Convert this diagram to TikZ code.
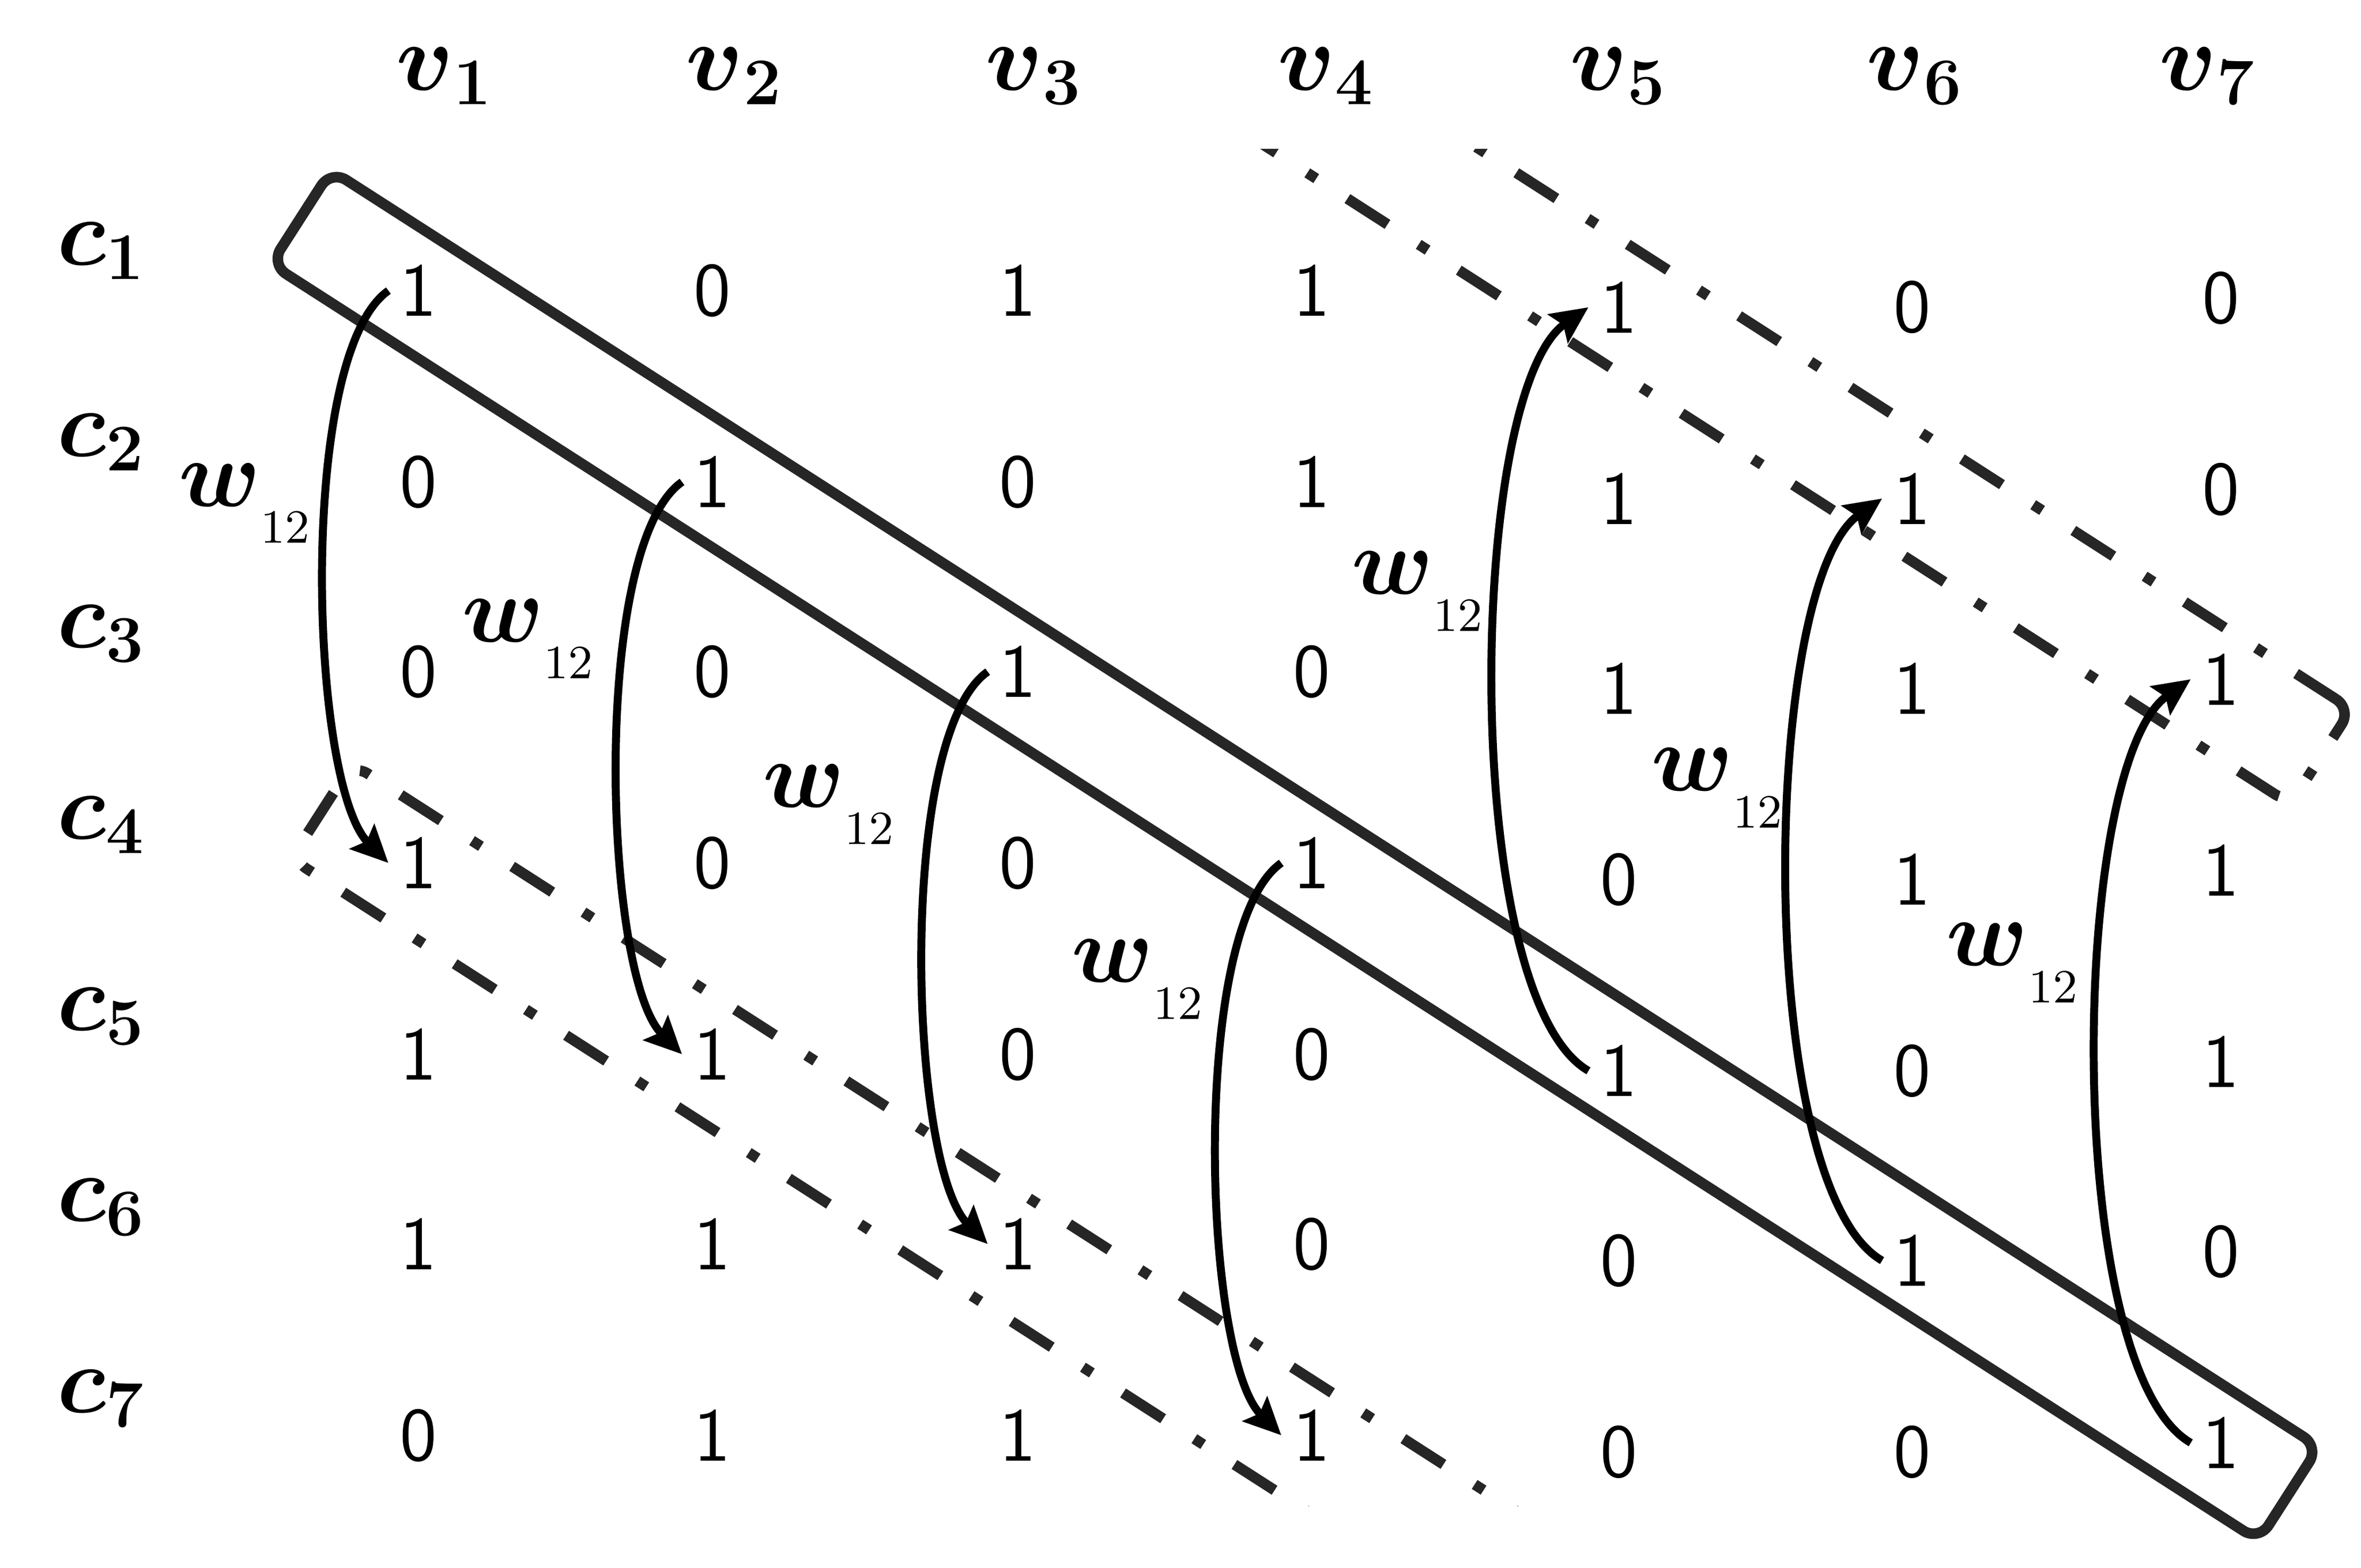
\RequirePackage{fix-cm}
\documentclass[tikz,border=0pt]{standalone}
\usepackage{amsmath}
\usepackage{xcolor}
\usepackage{tikz}
\usetikzlibrary{arrows.meta}
\definecolor{bandgray}{HTML}{262626}
\newcommand{\wsub}{$\boldsymbol{w}_{\lower4.3pt\hbox{$\scriptscriptstyle 12$}}$}

\begin{document}
\begin{tikzpicture}[x=0.01cm, y=0.01cm,
	bit/.style={inner sep=2pt, font=\fontsize{14.3}{16}\selectfont\sffamily},
	lab/.style={inner sep=0pt, font=\fontsize{18}{20}\selectfont},
	arr/.style={black, line width=1.5pt, -{Stealth[length=7pt,width=6.5pt,inset=1.2pt]}},
	godown/.style={arr, out=215, in=135, looseness=0.5},
	goup/.style={arr, out=150, in=215, looseness=0.5},
	band/.style={draw=bandgray, line width=2pt, rounded corners=0.12cm, rotate=-32.7},
	dashband/.style={band, dash pattern=on 9pt off 7pt on 2pt off 7pt}]
					\useasboundingbox (0,0) rectangle (1568,-1041.1);
					
					% column and row labels
					\node[lab, anchor=base] (v1) at (295.5,-60) {$\boldsymbol{v}_{\mathbf{1}}$};
					\node[lab, anchor=base] (v2) at (488,-60) {$\boldsymbol{v}_{\mathbf{2}}$};
					\node[lab, anchor=base] (v3) at (687,-60) {$\boldsymbol{v}_{\mathbf{3}}$};
					\node[lab, anchor=base] (v4) at (881,-60) {$\boldsymbol{v}_{\mathbf{4}}$};
					\node[lab, anchor=base] (v5) at (1075,-60) {$\boldsymbol{v}_{\mathbf{5}}$};
					\node[lab, anchor=base] (v6) at (1272,-60) {$\boldsymbol{v}_{\mathbf{6}}$};
					\node[lab, anchor=base] (v7) at (1466.5,-60) {$\boldsymbol{v}_{\mathbf{7}}$};
					
					\node[lab, anchor=base] (c1) at (67.5,-176) {$\boldsymbol{c}_{\mathbf{1}}$};
					\node[lab, anchor=base] (c2) at (67.5,-303) {$\boldsymbol{c}_{\mathbf{2}}$};
					\node[lab, anchor=base] (c3) at (67.5,-430) {$\boldsymbol{c}_{\mathbf{3}}$};
					\node[lab, anchor=base] (c4) at (67.5,-557) {$\boldsymbol{c}_{\mathbf{4}}$};
					\node[lab, anchor=base] (c5) at (67.5,-684) {$\boldsymbol{c}_{\mathbf{5}}$};
					\node[lab, anchor=base] (c6) at (67.5,-811) {$\boldsymbol{c}_{\mathbf{6}}$};
					\node[lab, anchor=base] (c7) at (67.5,-938) {$\boldsymbol{c}_{\mathbf{7}}$};
					
					% matrix entries
					\node[bit] (m11) at (278,-193) {1};
					\node[bit] (m12) at (473,-193) {0};
					\node[bit] (m13) at (676,-193) {1};
					\node[bit] (m14) at (871,-193) {1};
					\node[bit] (m15) at (1075,-204) {1};
					\node[bit] (m16) at (1270,-204) {0};
					\node[bit] (m17) at (1475,-198) {0};
					
					\node[bit] (m21) at (278,-320) {0};
					\node[bit] (m22) at (473,-320) {1};
					\node[bit] (m23) at (676,-320) {0};
					\node[bit] (m24) at (871,-320) {1};
					\node[bit] (m25) at (1075,-331) {1};
					\node[bit] (m26) at (1270,-331) {1};
					\node[bit] (m27) at (1475,-325) {0};
					
					\node[bit] (m31) at (278,-446) {0};
					\node[bit] (m32) at (473,-446) {0};
					\node[bit] (m33) at (676,-446) {1};
					\node[bit] (m34) at (871,-446) {0};
					\node[bit] (m35) at (1075,-457) {1};
					\node[bit] (m36) at (1270,-457) {1};
					\node[bit] (m37) at (1475,-451) {1};
					
					\node[bit] (m41) at (278,-573) {1};
					\node[bit] (m42) at (473,-573) {0};
					\node[bit] (m43) at (676,-573) {0};
					\node[bit] (m44) at (871,-573) {1};
					\node[bit] (m45) at (1075,-584) {0};
					\node[bit] (m46) at (1270,-584) {1};
					\node[bit] (m47) at (1475,-578) {1};
					
					\node[bit] (m51) at (278,-700) {1};
					\node[bit] (m52) at (473,-700) {1};
					\node[bit] (m53) at (676,-700) {0};
					\node[bit] (m54) at (871,-700) {0};
					\node[bit] (m55) at (1075,-711) {1};
					\node[bit] (m56) at (1270,-711) {0};
					\node[bit] (m57) at (1475,-705) {1};
					
					\node[bit] (m61) at (278,-826) {1};
					\node[bit] (m62) at (473,-826) {1};
					\node[bit] (m63) at (676,-826) {1};
					\node[bit] (m64) at (871,-826) {0};
					\node[bit] (m65) at (1075,-837) {0};
					\node[bit] (m66) at (1270,-837) {1};
					\node[bit] (m67) at (1475,-831) {0};
					
					\node[bit] (m71) at (278,-953) {0};
					\node[bit] (m72) at (473,-953) {1};
					\node[bit] (m73) at (676,-953) {1};
					\node[bit] (m74) at (871,-953) {1};
					\node[bit] (m75) at (1075,-964) {0};
					\node[bit] (m76) at (1270,-964) {0};
					\node[bit] (m77) at (1475,-958) {1};
					
					% weight labels
					\node[lab, anchor=base west] (w1) at (118,-336) {\wsub};
					\node[lab, anchor=base west] (w2) at (306,-426) {\wsub};
					\node[lab, anchor=base west] (w3) at (506,-536) {\wsub};
					\node[lab, anchor=base west] (w4) at (711,-652) {\wsub};
					\node[lab, anchor=base west] (w5) at (897,-394.5) {\wsub};
					\node[lab, anchor=base west] (w6) at (1096,-525) {\wsub};
					\node[lab, anchor=base west] (w7) at (1292,-641) {\wsub};
					
					% bands
					\node[band, minimum width=15.68cm, minimum height=0.74cm] (diag) at (860,-568) {};
					\begin{scope}
						\clip (0,-99) rectangle (1568,-1000);
						\node[dashband, minimum width=14cm, minimum height=0.75cm] (lowdiag) at (803,-917) {};
						\node[dashband, minimum width=14cm, minimum height=0.75cm] (updiag) at (952,-124) {};
					\end{scope}
					
					% shifts
					\draw[godown] (m11.west) to (m41.west);
					\draw[godown] (m22.west) to (m52.west);
					\draw[godown] (m33.west) to (m63.west);
					\draw[godown] (m44.west) to (m74.west);
					\draw[goup] (m55.west) to (m15.west);
					\draw[goup] (m66.west) to (m26.west);
					\draw[goup] (m77.west) to (m37.west);
\end{tikzpicture}
\end{document}
